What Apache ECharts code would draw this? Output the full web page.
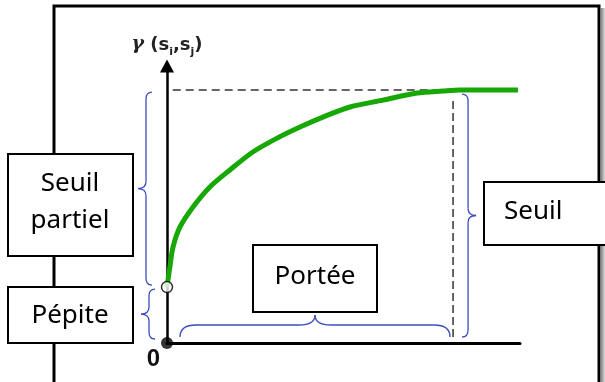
<!DOCTYPE html>
<html>
<head>
<meta charset="utf-8">
<script src="https://cdn.jsdelivr.net/npm/echarts@6/dist/echarts.min.js"></script>
<style>
html,body{margin:0;padding:0;background:#fff;}
#c{width:605px;height:382px;}
</style>
</head>
<body>
<div id="c"></div>
<script>
// ---- data ----
const xValues = [0, 0.1, 0.21, 0.45, 0.91, 1.5, 2.2, 3.0, 3.85, 4.65, 5.45, 6.4, 7.55, 8.74, 9.65, 10.24, 12.27];
const yValues = [2.21, 3.0, 3.79, 4.58, 5.38, 6.17, 6.84, 7.55, 8.10, 8.54, 8.93, 9.33, 9.60, 9.88, 9.96, 10.0, 10.0];
const nugget = 2.21;
const sill = 10;
const range = 10;
const xTickLabels = ['0'];
const boxLabels = ['Seuil\npartiel', 'Pépite', 'Portée', 'Seuil'];
const axisName = ['γ', 's', 'i', 's', 'j'];

const chart = echarts.init(document.getElementById('c'), null, {renderer: 'canvas'});
const BLUE = '#3c4cc0';
const FONT = "Noto Sans";

const option = {
  animation: false,
  backgroundColor: '#fff',
  grid: {left: 167, right: 85, top: 66, bottom: 39, containLabel: false},
  xAxis: {
    type: 'value', min: 0, max: 12.34, interval: 100,
    axisLine: {show: true, onZero: false, lineStyle: {color: '#000', width: 3}},
    axisTick: {show: false}, splitLine: {show: false},
    axisLabel: {
      showMaxLabel: false, align: 'right', margin: 4, padding: [0, 7, 0, 0],
      fontSize: 24, fontWeight: 'bold', color: '#111', fontFamily: 'Liberation Sans',
      formatter: (v) => (v === 0 ? xTickLabels[0] : '')
    }
  },
  yAxis: {
    type: 'value', min: 0, max: 10.95, interval: 100,
    axisLine: {show: true, onZero: false, symbol: ['none', 'triangle'], symbolSize: [14, 13],
      lineStyle: {color: '#000', width: 2.5}},
    axisTick: {show: false}, splitLine: {show: false}, axisLabel: {show: false},
    name: '{g|' + axisName[0] + '}{p| (' + axisName[1] + '}{s|' + axisName[2] + '}{p|,' + axisName[3] + '}{s|' + axisName[4] + '}{p|)}',
    nameLocation: 'end', nameGap: 12,
    nameTextStyle: {
      align: 'center', verticalAlign: 'bottom',
      rich: {
        g: {fontFamily: 'DejaVu Serif', fontStyle: 'italic', fontWeight: 'bold', fontSize: 19, color: '#222', verticalAlign: 'bottom', lineHeight: 20},
        p: {fontFamily: 'DejaVu Sans', fontWeight: 'bold', fontSize: 18, color: '#222', verticalAlign: 'bottom', lineHeight: 20},
        s: {fontFamily: 'DejaVu Sans', fontWeight: 'bold', fontSize: 11, color: '#222', verticalAlign: 'bottom', lineHeight: 13, padding: [0, 0, -4, 0]}
      }
    }
  },
  series: [
    { // dashed sill line
      type: 'line', data: [[0.2, sill], [range, sill]], symbol: 'none', z: 1,
      lineStyle: {color: '#333', width: 1.5, type: [8, 5]}
    },
    { // dashed range line
      type: 'line', data: [[range, 0.24], [range, 9.72]], symbol: 'none', z: 1,
      lineStyle: {color: '#333', width: 1.5, type: [8, 4]}
    },
    { // variogram curve
      type: 'line', data: xValues.map((x, i) => [x, yValues[i]]), symbol: 'none', z: 3,
      smooth: 0.3,
      lineStyle: {color: '#17a806', width: 5}
    },
    { // nugget point
      type: 'scatter', data: [[0, nugget]], symbol: 'circle', symbolSize: 11, z: 5,
      itemStyle: {color: '#fff', borderColor: '#000', borderWidth: 1.5}
    },
    { // origin point
      type: 'scatter', data: [[0, 0]], symbol: 'circle', symbolSize: 12, z: 5,
      itemStyle: {color: '#000'}
    }
  ]
};
chart.setOption(option);

// ---- annotations ----
function P(x, y) { return chart.convertToPixel({gridIndex: 0}, [x, y]); }

const braceStyle = {stroke: BLUE, lineWidth: 1.3, fill: null};
const graphics = [];
function q(x1, y1, cx, cy, x2, y2) {
  graphics.push({type: 'bezierCurve', z: 4, shape: {x1: x1, y1: y1, cpx1: cx, cpy1: cy, x2: x2, y2: y2}, style: braceStyle});
}
function ln(x1, y1, x2, y2) {
  graphics.push({type: 'line', z: 4, shape: {x1: x1, y1: y1, x2: x2, y2: y2}, style: braceStyle});
}
// vertical brace; dir = -1 tip to the left, +1 tip to the right
function vBrace(xe, y1, y2, dir) {
  const xb = xe + dir * 6, xt = xb + dir * 8, ym = (y1 + y2) / 2, r = 7;
  q(xe, y1, xb, y1, xb, y1 + r);
  ln(xb, y1 + r, xb, ym - r);
  q(xb, ym - r, xb, ym, xt, ym);
  q(xt, ym, xb, ym, xb, ym + r);
  ln(xb, ym + r, xb, y2 - r);
  q(xb, y2 - r, xb, y2, xe, y2);
}
// horizontal brace, tip upwards
function hBrace(x1, x2, ye) {
  const yb = ye - 12, yt = yb - 10, xm = (x1 + x2) / 2, r = 16;
  q(x1, ye, x1, yb, x1 + r, yb);
  ln(x1 + r, yb, xm - r, yb);
  q(xm - r, yb, xm, yb, xm, yt);
  q(xm, yt, xm, yb, xm + r, yb);
  ln(xm + r, yb, x2 - r, yb);
  q(x2 - r, yb, x2, yb, x2, ye);
}

const o = P(0, 0), pn = P(0, nugget), ps = P(0, sill), pr = P(range, 0);

// outer frame
graphics.push({type: 'rect', z: 0, shape: {x: 54, y: 6, width: 545, height: 420},
  style: {fill: null, stroke: '#000', lineWidth: 3}});
graphics.push({type: 'rect', z: 0, shape: {x: 600.5, y: 8, width: 5, height: 400},
  style: {fill: new echarts.graphic.LinearGradient(0, 0, 1, 0, [{offset: 0, color: '#777'}, {offset: 1, color: '#e8e8e8'}])}});

// braces
vBrace(o[0] - 15, ps[1] + 2, pn[1] - 2, -1);
vBrace(o[0] - 12, pn[1] + 2, o[1] - 4, -1);
vBrace(pr[0] + 9, ps[1] + 4, o[1] - 6, 1);
hBrace(o[0] + 13, pr[0] - 3, o[1] - 6);

// boxes
function box(x, y, w, h, text, tx, ty, align) {
  graphics.push({type: 'rect', z: 10, shape: {x: x, y: y, width: w, height: h},
    style: {fill: '#fff', stroke: '#000', lineWidth: 2}});
  graphics.push({type: 'text', z: 11, x: tx, y: ty,
    style: {text: text, fill: '#000', fontSize: 26, fontFamily: FONT, align: align || 'center', verticalAlign: 'middle', lineHeight: 37}});
}
box(8, 154, 125, 102, boxLabels[0], 70, 202);
box(8, 287, 125, 56, boxLabels[1], 70, 316);
box(253, 245, 124, 67, boxLabels[2], 315, 277);
box(484, 182, 140, 63, boxLabels[3], 504, 212, 'left');

chart.setOption({graphic: graphics});
</script>
</body>
</html>
